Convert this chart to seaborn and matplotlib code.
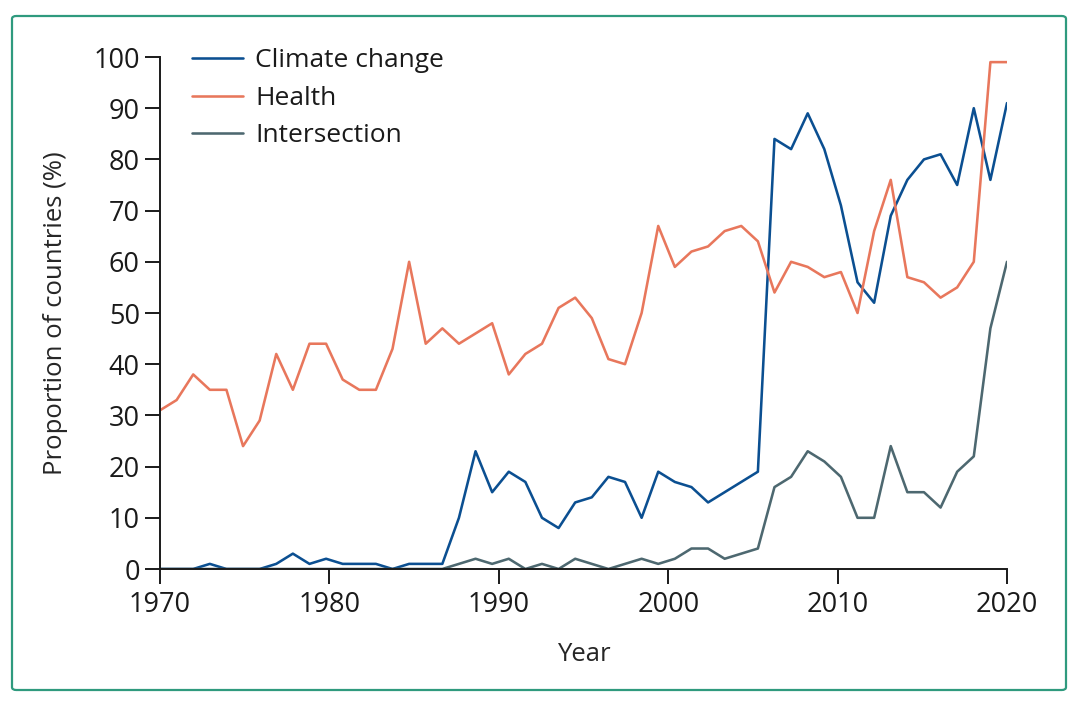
import numpy as np
import pandas as pd
import matplotlib
matplotlib.use("Agg")
import matplotlib.pyplot as plt
import seaborn as sns
from matplotlib.patches import FancyBboxPatch

# 52 yearly readings spread evenly over the 1970-2020 axis
climate_change = [0, 0, 0, 1, 0, 0, 0, 1, 3, 1, 2, 1, 1, 1, 0, 1, 1, 1, 10, 23,
                  15, 19, 17, 10, 8, 13, 14, 18, 17, 10, 19, 17, 16, 13, 15, 17,
                  19, 84, 82, 89, 82, 71, 56, 52, 69, 76, 80, 81, 75, 90, 76, 91]
health = [31, 33, 38, 35, 35, 24, 29, 42, 35, 44, 44, 37, 35, 35, 43, 60, 44, 47,
          44, 46, 48, 38, 42, 44, 51, 53, 49, 41, 40, 50, 67, 59, 62, 63, 66, 67,
          64, 54, 60, 59, 57, 58, 50, 66, 76, 57, 56, 53, 55, 60, 99, 99]
intersection = [0, 0, 0, 0, 0, 0, 0, 0, 0, 0, 0, 0, 0, 0, 0, 0, 0, 0, 1, 2,
                1, 2, 0, 1, 0, 2, 1, 0, 1, 2, 1, 2, 4, 4, 2, 3, 4, 16, 18, 23,
                21, 18, 10, 10, 24, 15, 15, 12, 19, 22, 47, 60]
series_names = ["Climate change", "Health", "Intersection"]
colors = ["#0b4f91", "#e8775c", "#4d6870"]
year_ticks = [1970, 1980, 1990, 2000, 2010, 2020]

n = len(health)
years = np.linspace(1970, 2020, n)
df = pd.DataFrame({
    "Year": np.tile(years, 3),
    "value": climate_change + health + intersection,
    "series": np.repeat(series_names, n),
})

sns.set_style("ticks")
plt.rcParams["font.family"] = ["Open Sans", "DejaVu Sans"]
plt.rcParams["text.color"] = "#1a1a1a"

fig = plt.figure(figsize=(10.8, 7.06), dpi=100)
ax = fig.add_axes([160 / 1080, 1 - 569 / 706, 847 / 1080, 512 / 706])

sns.lineplot(data=df, x="Year", y="value", hue="series", hue_order=series_names,
             palette=colors, linewidth=1.85, ax=ax)

ax.set_xlim(1970, 2020)
ax.set_ylim(0, 100)
ax.set_xticks(year_ticks)
ax.set_yticks(range(0, 101, 10))
ax.tick_params(axis="both", labelsize=19.5, length=10.5, width=1.4,
               color="#1a1a1a", labelcolor="#1a1a1a", pad=4)
ax.tick_params(axis="x", pad=5)
for s in ["left", "bottom"]:
    ax.spines[s].set_linewidth(1.4)
    ax.spines[s].set_color("#1a1a1a")
sns.despine(ax=ax)

ax.set_xlabel("Year", fontsize=18.5, labelpad=17)
ax.set_ylabel("Proportion of countries (%)", fontsize=18.5, labelpad=18)

leg = ax.legend(loc="upper left", bbox_to_anchor=(0.025, 1.038), frameon=False,
                fontsize=19, handlelength=1.95, handletextpad=0.45,
                labelspacing=0.48, borderaxespad=0)
for line in leg.get_lines():
    line.set_linewidth(1.85)

frame = FancyBboxPatch((12 / 1080, 16 / 706), 1054 / 1080, 674 / 706,
                       boxstyle="round,pad=0,rounding_size=0.004",
                       transform=fig.transFigure, fill=False,
                       edgecolor="#2f9a7e", linewidth=1.6)
fig.patches.append(frame)

fig.savefig("out.png", dpi=100)
